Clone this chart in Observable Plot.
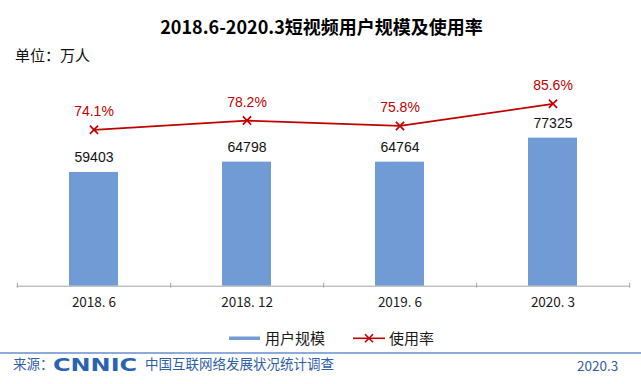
<!DOCTYPE html>
<html><head><meta charset="utf-8">
<script src="https://cdn.jsdelivr.net/npm/d3@7"></script>
<script src="https://cdn.jsdelivr.net/npm/@observablehq/plot@0.6"></script>
<style>
html,body{margin:0;padding:0;background:#fff;}
#root{position:relative;width:641px;height:384px;overflow:hidden;font-family:"Noto Sans CJK SC","Noto Sans",sans-serif;}
.abs{position:absolute;white-space:nowrap;}
</style></head><body><div id="root"></div>
<script>
// ---- data ----
const periods = ["2018. 6", "2018. 12", "2019. 6", "2020. 3"];
const users = [59403, 64798, 64764, 77325];
const rates = [74.1, 78.2, 75.8, 85.6];
const titleText = "2018.6-2020.3短视频用户规模及使用率";
const unitText = "单位：万人";
const seriesNames = ["用户规模", "使用率"];
const sourceLabel = "来源：";
const sourceLogo = "CNNIC";
const sourceText = "中国互联网络发展状况统计调查";
const dateText = "2020.3";
const userDomain = [0, 100000];
const rateDomain = [0, 100];
const rateOnUserAxis = [-5811, 112249]; // secondary (rate) axis expressed in primary units

// ---- styles ----
const barColor = "#719bd4";
const lineColor = "#c00000";
const axisColor = "#a6a6a6";
const W = 641, H = 265, mL = 16.7, mR = 11, mT = 34.2, mB = 39.3;

const data = periods.map((p, i) => ({period: p, users: users[i], rate: rates[i]}));
const rateToY = d3.scaleLinear().domain(rateDomain).range(rateOnUserAxis);
const step = (W - mL - mR) / periods.length;

const chart = Plot.plot({
  width: W, height: H,
  marginLeft: mL, marginRight: mR, marginTop: mT, marginBottom: mB,
  style: {background: "transparent", fontFamily: "'Noto Sans CJK SC', sans-serif", overflow: "visible"},
  x: {domain: periods, type: "band", paddingInner: 0.68, paddingOuter: 0.34, label: null, axis: null},
  y: {domain: userDomain, axis: null},
  marks: [
    Plot.barY(data, {x: "period", y: "users", fill: barColor}),
    Plot.ruleY([0], {stroke: axisColor, strokeWidth: 1}),
    Plot.ruleX(periods, {x: d => d, y1: 0, y2: 0, dx: step / 2, insetTop: -3, insetBottom: -2, stroke: axisColor}),
    Plot.ruleX(periods.slice(0, 1), {x: d => d, y1: 0, y2: 0, dx: -step / 2, insetTop: -3, insetBottom: -2, stroke: axisColor}),
    Plot.text(data, {x: "period", y: "users", text: d => String(d.users), dy: -15,
      fontFamily: "'Liberation Sans', Arial, sans-serif", fontSize: 14, fill: "#111"}),
    Plot.line(data, {x: "period", y: d => rateToY(d.rate), stroke: lineColor, strokeWidth: 1.7}),
    Plot.dot(data, {x: "period", y: d => rateToY(d.rate), symbol: "times", r: 3.8, stroke: lineColor, strokeWidth: 1.7}),
    Plot.text(data, {x: "period", y: d => rateToY(d.rate), text: d => d.rate.toFixed(1) + "%", dy: -18.5,
      fontFamily: "'Liberation Sans', Arial, sans-serif", fontSize: 14, fill: lineColor}),
    Plot.axisX({tickSize: 0, tickPadding: 11.5, fontSize: 13.5, color: "#1a1a1a",
      fontFamily: "'Noto Sans CJK SC', sans-serif"})
  ]
});

const root = document.getElementById("root");
function addText(txt, css) {
  const d = document.createElement("div");
  d.className = "abs";
  d.textContent = txt;
  d.style.cssText += css;
  root.appendChild(d);
  return d;
}

// title & unit
addText(titleText, "left:1px;width:641px;text-align:center;top:16.5px;font-size:18px;line-height:18px;font-weight:bold;color:#000;");
addText(unitText, "left:15px;top:47px;font-size:15px;line-height:15px;color:#111;");

// chart svg
chart.style.position = "absolute";
chart.style.left = "0px";
chart.style.top = "60px";
root.appendChild(chart);

// legend
const ns = "http://www.w3.org/2000/svg";
const lg = document.createElementNS(ns, "svg");
lg.setAttribute("width", 641); lg.setAttribute("height", 20);
lg.style.cssText = "position:absolute;left:0;top:328px;";
lg.innerHTML =
  `<rect x="229" y="8.5" width="31" height="3.5" fill="${barColor}"/>` +
  `<line x1="353" x2="385" y1="10.3" y2="10.3" stroke="${lineColor}" stroke-width="1.6"/>` +
  `<path d="M365,6.3L373,14.3M373,6.3L365,14.3" stroke="${lineColor}" stroke-width="1.6"/>`;
root.appendChild(lg);
addText(seriesNames[0], "left:265px;top:330px;font-size:15px;line-height:15px;color:#1a1a1a;");
addText(seriesNames[1], "left:389px;top:330px;font-size:15px;line-height:15px;color:#1a1a1a;");

// footer
const rule = document.createElement("div");
rule.style.cssText = "position:absolute;left:0;top:351.7px;width:641px;height:2px;background:#8eaadb;";
root.appendChild(rule);
addText(sourceLabel, "left:13px;top:357px;font-size:13.5px;line-height:13.5px;color:#2f5ea8;");
const logo = addText(sourceLogo, "left:53px;top:355.8px;font-family:'DejaVu Sans',sans-serif;font-weight:bold;font-size:18px;line-height:18px;color:#2b63b3;transform:scaleX(1.33);transform-origin:0 50%;");
addText(sourceText, "left:145px;top:357px;font-size:13.5px;line-height:13.5px;color:#2f5ea8;");
addText(dateText, "left:577px;top:358.5px;font-size:13.5px;line-height:13.5px;color:#2f5ea8;");
</script></body></html>
